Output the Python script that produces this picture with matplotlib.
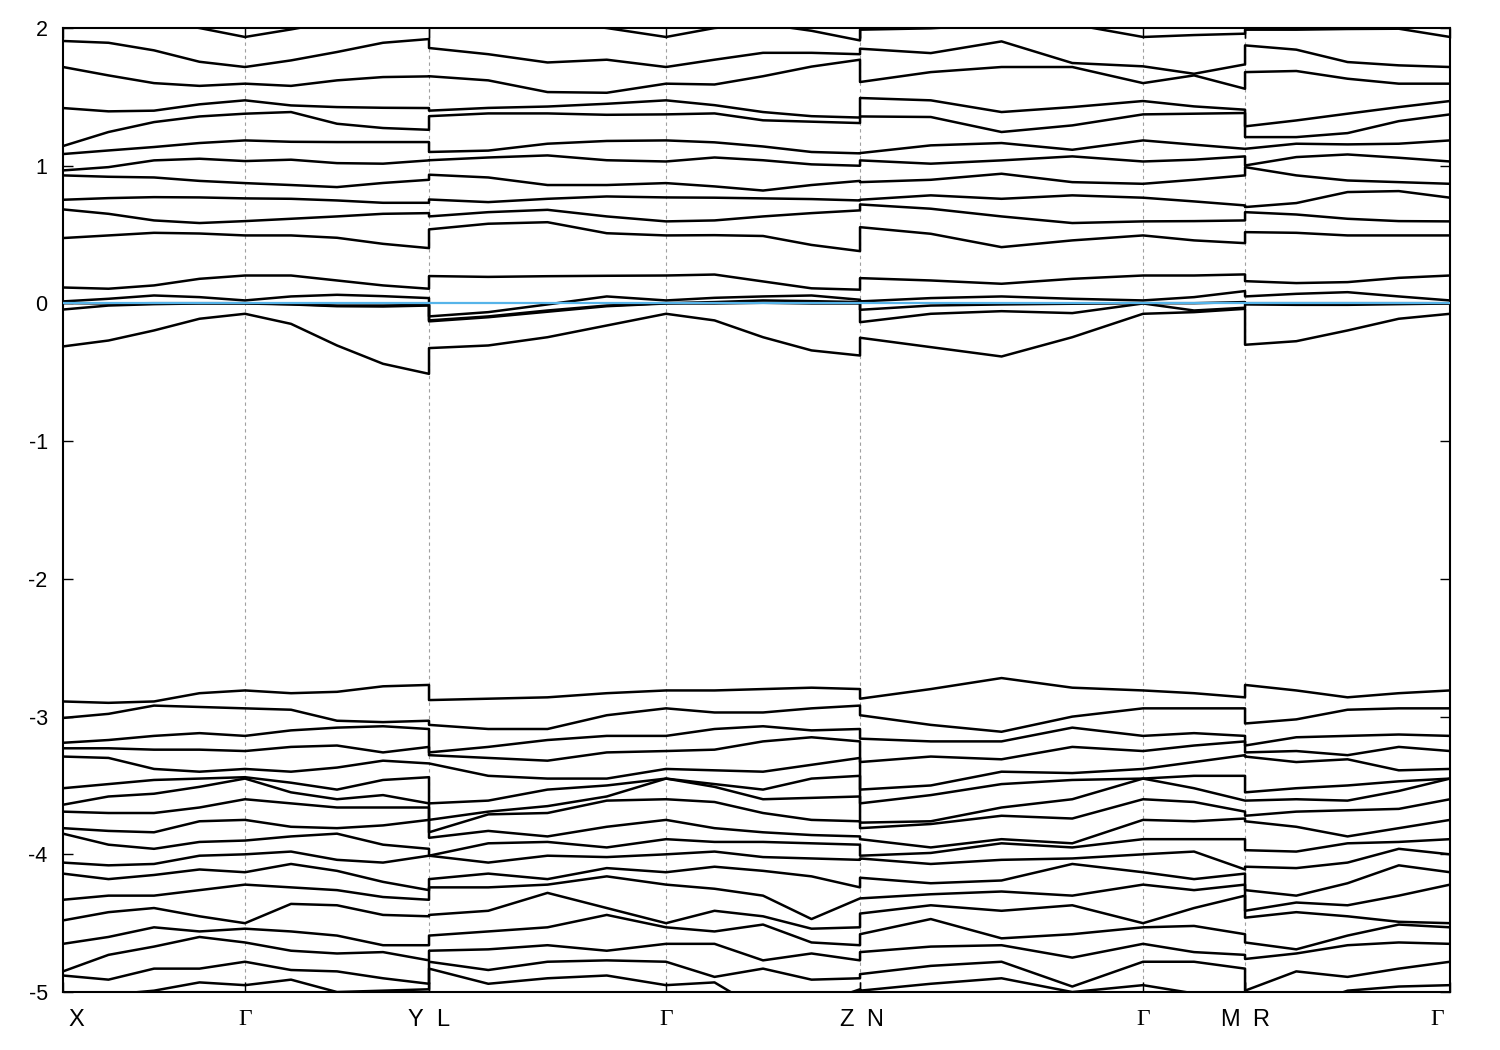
import numpy as np
import matplotlib
matplotlib.use('Agg')
import matplotlib.pyplot as plt
from matplotlib import transforms

# ---------------- high-symmetry points (k-path distance) ----------------
k_X, k_G1, k_Y = 0.0, 1.82, 3.66
k_L, k_G2, k_Z = 3.66, 6.03, 7.97
k_N, k_G3, k_M = 7.97, 10.80, 11.82
k_R, k_G4 = 11.82, 13.87

kpt_labels = ['X', 'Γ', 'Y', 'L', 'Γ', 'Z', 'N', 'Γ', 'M', 'R', 'Γ']
kpt_pos = [k_X, k_G1, k_Y, k_L, k_G2, k_Z, k_N, k_G3, k_M, k_R, k_G4]
yticks = [-5, -4, -3, -2, -1, 0, 1, 2]

# ---------------- band energies (eV), rows = bands, cols = k samples ----------------
# segment 1: X -> Gamma -> Y (9 samples)
cond_seg1 = [
    [2.15, 2.10, 2.05, 2.00, 1.935, 1.99, 2.05, 2.08, 2.10],
    [1.906, 1.893, 1.838, 1.755, 1.717, 1.765, 1.826, 1.893, 1.92],
    [1.717, 1.656, 1.60, 1.58, 1.596, 1.58, 1.62, 1.644, 1.649],
    [1.419, 1.395, 1.40, 1.446, 1.475, 1.438, 1.426, 1.421, 1.419],
    [1.143, 1.245, 1.317, 1.358, 1.378, 1.39, 1.305, 1.274, 1.261],
    [1.085, 1.111, 1.136, 1.165, 1.184, 1.174, 1.172, 1.172, 1.172],
    [0.966, 0.99, 1.039, 1.051, 1.034, 1.044, 1.019, 1.015, 1.039],
    [0.93, 0.92, 0.915, 0.89, 0.874, 0.86, 0.845, 0.875, 0.898],
    [0.753, 0.765, 0.772, 0.77, 0.763, 0.76, 0.748, 0.731, 0.731],
    [0.683, 0.651, 0.603, 0.584, 0.598, 0.615, 0.632, 0.651, 0.656],
    [0.475, 0.494, 0.513, 0.508, 0.494, 0.494, 0.477, 0.433, 0.402],
    [0.116, 0.107, 0.131, 0.179, 0.203, 0.203, 0.167, 0.131, 0.107],
    [0.015, 0.034, 0.058, 0.046, 0.022, 0.051, 0.063, 0.053, 0.039],
    [0.003, 0.0, 0.002, 0.002, 0.002, -0.005, -0.015, -0.015, -0.01],
    [-0.044, -0.015, -0.005, 0.0, 0.0, -0.007, -0.02, -0.022, -0.015],
    [-0.312, -0.269, -0.196, -0.111, -0.075, -0.148, -0.305, -0.438, -0.511],
]
val_seg1 = [
    [-2.89, -2.90, -2.89, -2.83, -2.81, -2.83, -2.82, -2.78, -2.77],
    [-3.01, -2.98, -2.92, -2.93, -2.94, -2.95, -3.03, -3.04, -3.03],
    [-3.19, -3.17, -3.14, -3.12, -3.14, -3.10, -3.08, -3.07, -3.09],
    [-3.23, -3.23, -3.24, -3.24, -3.25, -3.22, -3.21, -3.26, -3.22],
    [-3.29, -3.30, -3.38, -3.40, -3.38, -3.40, -3.37, -3.32, -3.34],
    [-3.52, -3.49, -3.46, -3.45, -3.44, -3.48, -3.53, -3.46, -3.44],
    [-3.64, -3.58, -3.56, -3.51, -3.45, -3.55, -3.60, -3.57, -3.63],
    [-3.69, -3.70, -3.70, -3.66, -3.60, -3.63, -3.66, -3.66, -3.66],
    [-3.81, -3.83, -3.84, -3.76, -3.75, -3.80, -3.81, -3.79, -3.75],
    [-3.85, -3.93, -3.96, -3.91, -3.90, -3.87, -3.85, -3.93, -3.96],
    [-4.06, -4.08, -4.07, -4.01, -4.00, -3.98, -4.04, -4.06, -4.01],
    [-4.14, -4.18, -4.15, -4.11, -4.13, -4.07, -4.12, -4.20, -4.26],
    [-4.33, -4.30, -4.30, -4.26, -4.22, -4.24, -4.26, -4.31, -4.33],
    [-4.48, -4.42, -4.39, -4.45, -4.50, -4.36, -4.37, -4.44, -4.45],
    [-4.65, -4.60, -4.53, -4.56, -4.54, -4.56, -4.59, -4.66, -4.66],
    [-4.85, -4.73, -4.67, -4.60, -4.64, -4.70, -4.72, -4.71, -4.77],
    [-4.88, -4.91, -4.83, -4.83, -4.78, -4.84, -4.85, -4.90, -4.94],
    [-5.04, -5.02, -4.99, -4.93, -4.95, -4.91, -5.00, -4.99, -4.98],
]

# segment 2: L -> Gamma -> Z (9 samples)
cond_seg2 = [
    [2.10, 2.08, 2.05, 2.00, 1.935, 2.00, 2.03, 1.98, 1.91],
    [1.855, 1.81, 1.75, 1.77, 1.717, 1.77, 1.82, 1.82, 1.81],
    [1.65, 1.62, 1.535, 1.53, 1.596, 1.59, 1.65, 1.72, 1.77],
    [1.40, 1.42, 1.43, 1.45, 1.475, 1.44, 1.39, 1.36, 1.35],
    [1.36, 1.38, 1.38, 1.37, 1.373, 1.38, 1.33, 1.32, 1.31],
    [1.10, 1.11, 1.16, 1.18, 1.184, 1.17, 1.14, 1.10, 1.09],
    [1.04, 1.06, 1.075, 1.04, 1.031, 1.06, 1.04, 1.01, 1.00],
    [0.935, 0.915, 0.86, 0.86, 0.874, 0.85, 0.82, 0.86, 0.89],
    [0.755, 0.736, 0.76, 0.777, 0.77, 0.768, 0.763, 0.758, 0.748],
    [0.632, 0.663, 0.68, 0.632, 0.596, 0.603, 0.632, 0.656, 0.676],
    [0.538, 0.579, 0.59, 0.51, 0.494, 0.496, 0.49, 0.425, 0.38],
    [0.199, 0.193, 0.198, 0.201, 0.203, 0.21, 0.16, 0.11, 0.10],
    [-0.094, -0.063, -0.007, 0.051, 0.022, 0.041, 0.051, 0.058, 0.027],
    [-0.123, -0.094, -0.051, -0.015, 0.002, 0.01, 0.022, 0.017, 0.01],
    [-0.13, -0.10, -0.06, -0.02, 0.0, 0.0, 0.005, 0.0, 0.0],
    [-0.324, -0.305, -0.245, -0.16, -0.075, -0.123, -0.245, -0.341, -0.378],
]
val_seg2 = [
    [-2.88, -2.87, -2.86, -2.83, -2.81, -2.81, -2.80, -2.79, -2.80],
    [-3.06, -3.09, -3.09, -2.99, -2.94, -2.97, -2.97, -2.94, -2.92],
    [-3.26, -3.22, -3.17, -3.14, -3.14, -3.09, -3.07, -3.10, -3.09],
    [-3.28, -3.30, -3.32, -3.26, -3.25, -3.24, -3.18, -3.15, -3.18],
    [-3.34, -3.43, -3.45, -3.45, -3.38, -3.39, -3.40, -3.35, -3.30],
    [-3.63, -3.61, -3.53, -3.50, -3.45, -3.49, -3.53, -3.45, -3.43],
    [-3.75, -3.69, -3.65, -3.58, -3.45, -3.51, -3.60, -3.59, -3.58],
    [-3.84, -3.71, -3.70, -3.61, -3.60, -3.62, -3.70, -3.75, -3.76],
    [-3.88, -3.83, -3.87, -3.80, -3.75, -3.81, -3.84, -3.86, -3.87],
    [-4.01, -3.92, -3.91, -3.95, -3.89, -3.91, -3.91, -3.92, -3.93],
    [-4.01, -4.06, -4.01, -4.02, -4.00, -3.98, -4.02, -4.03, -4.04],
    [-4.18, -4.14, -4.18, -4.10, -4.13, -4.09, -4.12, -4.16, -4.24],
    [-4.24, -4.24, -4.22, -4.16, -4.22, -4.25, -4.30, -4.47, -4.32],
    [-4.44, -4.41, -4.28, -4.39, -4.50, -4.41, -4.45, -4.54, -4.53],
    [-4.59, -4.56, -4.53, -4.44, -4.53, -4.56, -4.51, -4.64, -4.66],
    [-4.70, -4.69, -4.66, -4.70, -4.65, -4.65, -4.77, -4.72, -4.77],
    [-4.78, -4.84, -4.78, -4.77, -4.78, -4.89, -4.83, -4.91, -4.90],
    [-4.83, -4.94, -4.90, -4.88, -4.95, -4.93, -5.14, -5.10, -4.98],
]

# segment 3: N -> Gamma -> M (7 samples)
cond_seg3 = [
    [1.988, 1.998, 2.027, 2.027, 1.935, 1.949, 1.959],
    [1.850, 1.818, 1.903, 1.746, 1.722, 1.668, 1.736],
    [1.608, 1.680, 1.717, 1.717, 1.600, 1.656, 1.559],
    [1.492, 1.475, 1.390, 1.426, 1.470, 1.431, 1.407],
    [1.358, 1.354, 1.245, 1.293, 1.373, 1.378, 1.383],
    [1.092, 1.148, 1.165, 1.116, 1.184, 1.153, 1.123],
    [1.039, 1.015, 1.039, 1.068, 1.031, 1.044, 1.068],
    [0.881, 0.898, 0.942, 0.881, 0.869, 0.898, 0.930],
    [0.753, 0.785, 0.760, 0.785, 0.768, 0.741, 0.712],
    [0.719, 0.688, 0.632, 0.584, 0.596, 0.598, 0.603],
    [0.554, 0.506, 0.409, 0.458, 0.494, 0.458, 0.438],
    [0.184, 0.167, 0.143, 0.179, 0.203, 0.203, 0.211],
    [0.015, 0.039, 0.051, 0.034, 0.022, 0.046, 0.090],
    [-0.046, -0.015, -0.007, -0.002, 0.002, 0.002, 0.010],
    [-0.136, -0.075, -0.056, -0.070, 0.0, -0.051, -0.031],
    [-0.249, -0.317, -0.385, -0.245, -0.075, -0.063, -0.039],
]
val_seg3 = [
    [-2.87, -2.80, -2.72, -2.79, -2.81, -2.83, -2.86],
    [-2.99, -3.06, -3.11, -3.00, -2.94, -2.94, -2.94],
    [-3.16, -3.18, -3.18, -3.08, -3.14, -3.12, -3.14],
    [-3.33, -3.29, -3.31, -3.22, -3.25, -3.21, -3.18],
    [-3.53, -3.50, -3.40, -3.41, -3.38, -3.33, -3.28],
    [-3.63, -3.57, -3.49, -3.46, -3.45, -3.43, -3.43],
    [-3.77, -3.76, -3.66, -3.60, -3.45, -3.52, -3.61],
    [-3.81, -3.78, -3.72, -3.74, -3.60, -3.62, -3.69],
    [-3.89, -3.95, -3.89, -3.92, -3.75, -3.76, -3.74],
    [-4.01, -3.99, -3.92, -3.95, -3.89, -3.89, -3.89],
    [-4.03, -4.07, -4.04, -4.03, -4.00, -3.98, -4.11],
    [-4.17, -4.21, -4.19, -4.07, -4.13, -4.18, -4.14],
    [-4.32, -4.29, -4.27, -4.30, -4.22, -4.26, -4.22],
    [-4.43, -4.37, -4.41, -4.37, -4.50, -4.39, -4.30],
    [-4.58, -4.47, -4.61, -4.58, -4.53, -4.52, -4.58],
    [-4.71, -4.67, -4.66, -4.75, -4.65, -4.71, -4.73],
    [-4.87, -4.81, -4.78, -4.96, -4.78, -4.78, -4.83],
    [-4.99, -4.94, -4.90, -5.00, -4.95, -5.01, -5.12],
]

# segment 4: R -> Gamma (5 samples)
cond_seg4 = [
    [1.988, 1.988, 1.993, 1.995, 1.935],
    [1.874, 1.843, 1.753, 1.729, 1.717],
    [1.680, 1.688, 1.632, 1.596, 1.596],
    [1.286, 1.329, 1.378, 1.426, 1.470],
    [1.208, 1.208, 1.237, 1.324, 1.373],
    [1.123, 1.160, 1.155, 1.160, 1.184],
    [1.002, 1.063, 1.082, 1.058, 1.031],
    [0.990, 0.930, 0.893, 0.881, 0.869],
    [0.700, 0.729, 0.809, 0.816, 0.768],
    [0.663, 0.646, 0.615, 0.598, 0.596],
    [0.518, 0.513, 0.494, 0.494, 0.494],
    [0.162, 0.148, 0.155, 0.186, 0.203],
    [0.051, 0.070, 0.082, 0.051, 0.022],
    [0.002, 0.002, 0.002, 0.002, 0.002],
    [-0.007, -0.010, -0.010, -0.005, 0.0],
    [-0.300, -0.274, -0.196, -0.111, -0.075],
]
val_seg4 = [
    [-2.77, -2.81, -2.86, -2.83, -2.81],
    [-3.05, -3.02, -2.95, -2.94, -2.94],
    [-3.21, -3.15, -3.14, -3.13, -3.14],
    [-3.26, -3.25, -3.28, -3.22, -3.25],
    [-3.29, -3.33, -3.31, -3.39, -3.38],
    [-3.55, -3.52, -3.50, -3.47, -3.45],
    [-3.61, -3.60, -3.61, -3.54, -3.45],
    [-3.72, -3.69, -3.68, -3.67, -3.60],
    [-3.76, -3.80, -3.87, -3.81, -3.75],
    [-3.97, -3.98, -3.92, -3.91, -3.89],
    [-4.09, -4.10, -4.06, -3.96, -4.00],
    [-4.26, -4.30, -4.21, -4.08, -4.13],
    [-4.41, -4.35, -4.37, -4.30, -4.22],
    [-4.46, -4.42, -4.45, -4.49, -4.50],
    [-4.64, -4.69, -4.59, -4.51, -4.53],
    [-4.76, -4.72, -4.66, -4.64, -4.65],
    [-4.99, -4.85, -4.89, -4.83, -4.78],
    [-5.19, -5.12, -4.99, -4.96, -4.95],
]

# ---------------- k sampling along each segment ----------------
k_seg1 = np.r_[np.linspace(k_X, k_G1, 5), np.linspace(k_G1, k_Y, 5)[1:]]
k_seg2 = np.r_[np.linspace(k_L, k_G2, 5), np.linspace(k_G2, k_Z, 5)[1:]]
k_seg3 = np.r_[np.linspace(k_N, k_G3, 5), np.linspace(k_G3, k_M, 3)[1:]]
k_seg4 = np.linspace(k_R, k_G4, 5)
k_all = np.r_[k_seg1, k_seg2, k_seg3, k_seg4]

# ---------------- figure ----------------
plt.rcParams['font.family'] = ['Liberation Sans', 'DejaVu Sans']
fig = plt.figure(figsize=(15, 10.5), dpi=100)
ax = fig.add_axes([0.042, 0.0552, 0.9247, 0.9181])

# dotted guide lines at Gamma points and path breaks
for xv in [k_G1, k_Y, k_G2, k_Z, k_G3, k_M]:
    ax.axvline(xv, color='#a0a0a0', lw=0.8, ls=(0, (3, 3)), zorder=0)

for groups in [(cond_seg1, cond_seg2, cond_seg3, cond_seg4),
               (val_seg1, val_seg2, val_seg3, val_seg4)]:
    nb = len(groups[0])
    for i in range(nb):
        e = np.r_[groups[0][i], groups[1][i], groups[2][i], groups[3][i]]
        ax.plot(k_all, e, color='black', lw=1.8, solid_joinstyle='round',
                solid_capstyle='round', zorder=2)

# Fermi level
ax.axhline(0.0, color='#56b4e9', lw=1.6, zorder=3)

ax.set_xlim(k_X, k_G4)
ax.set_ylim(-5, 2)
ax.set_yticks(yticks)
ax.set_yticklabels([str(v) for v in yticks], fontsize=15.5)
ax.set_xticks(kpt_pos)
ax.set_xticklabels([])
ax.tick_params(axis='y', direction='in', length=7.5, width=1.0, left=True, right=True, pad=11)
ax.tick_params(axis='x', direction='in', length=7.5, width=1.0, bottom=True, top=True)
for sp in ax.spines.values():
    sp.set_linewidth(1.5)
    sp.set_color('black')

# k-point labels (gnuplot style offsets at path breaks)
base = transforms.blended_transform_factory(ax.transData, ax.transAxes)
label_specs = [
    ('X', k_X, 'left', 5), ('Γ', k_G1, 'center', 0), ('Y', k_Y, 'right', -6),
    ('L', k_L, 'left', 7), ('Γ', k_G2, 'center', 0), ('Z', k_Z, 'right', -6),
    ('N', k_N, 'left', 6), ('Γ', k_G3, 'center', 0), ('M', k_M, 'right', -5),
    ('R', k_R, 'left', 7), ('Γ', k_G4, 'right', -6),
]
for txt, xv, ha, dx in label_specs:
    tr = transforms.offset_copy(base, fig=fig, x=dx, y=0, units='dots')
    fam = ['Liberation Serif', 'DejaVu Serif'] if txt == 'Γ' else ['Liberation Sans', 'DejaVu Sans']
    ax.text(xv, -0.029, txt, transform=tr, ha=ha, va='center', fontsize=17, family=fam)

fig.savefig('out.png', dpi=100)
